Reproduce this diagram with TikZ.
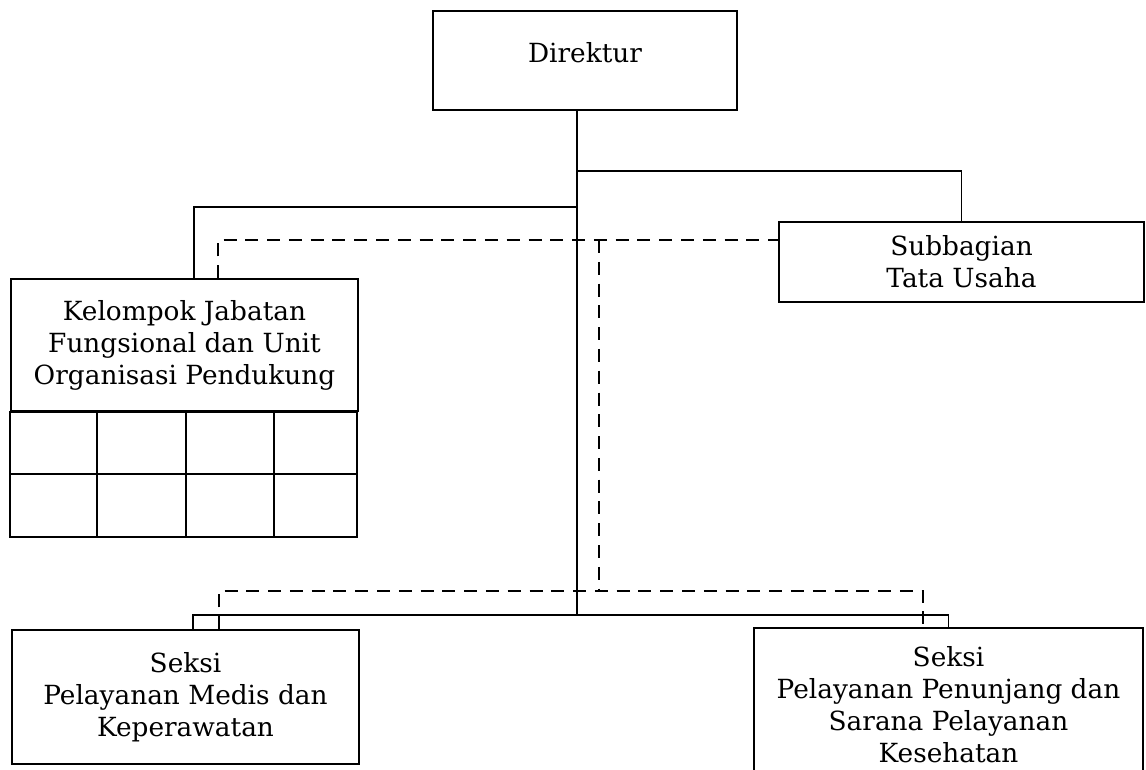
\documentclass[tikz,border=0pt]{standalone}
\usepackage{fontspec}
\setmainfont{DejaVu Serif}
\tikzset{
  kotak/.style={draw, line width=1.1pt, align=center, inner sep=0pt},
  garis/.style={line width=1.1pt},
  putus/.style={line width=1.1pt, dash pattern=on 7.4pt off 5pt},
}
\begin{document}
\begin{tikzpicture}[x=0.02cm, y=-0.02cm, font=\fontsize{15}{18.2}\selectfont]
  \useasboundingbox (0,0) rectangle (1146,769);

  % Kotak unit
  \node[kotak, minimum width=6.08cm, minimum height=1.98cm, text depth=9pt] (dir) at (585,60.5) {Direktur};
  \node[kotak, minimum width=6.94cm, minimum height=2.64cm] (kjf) at (184.5,345) {Kelompok Jabatan\\Fungsional dan Unit\\Organisasi Pendukung};
  \node[kotak, minimum width=7.3cm, minimum height=1.6cm] (tu) at (961.5,262) {Subbagian\\Tata Usaha};
  \node[kotak, minimum width=6.94cm, minimum height=2.68cm] (medis) at (185.5,697) {Seksi\\Pelayanan Medis dan\\Keperawatan};
  \node[kotak, minimum width=7.78cm, minimum height=3.08cm] (penunjang) at (948.5,705) {Seksi\\Pelayanan Penunjang dan\\Sarana Pelayanan\\Kesehatan};

  % Tabel di bawah kelompok jabatan
  \draw[garis] (kjf.south west) rectangle ++(347,125);
  \draw[garis] (kjf.south west) ++(0,62) -- ++(347,0);
  \foreach \x in {87,176,264}
    \draw[garis] (kjf.south west) ++(\x,0) -- ++(0,125);

  % Titik bantu
  \coordinate (poros) at (577,615);
  \coordinate (putusatas) at (599,240);
  \coordinate (putusbawah) at (599,591);

  % Garis komando
  \draw[garis] (dir.south -| poros) -- (poros);
  \draw[garis] (dir.south -| poros) ++(0,60) -| (tu.north);
  \draw[garis] (dir.south -| poros) ++(0,96) -| ([xshift=0.19cm]kjf.north);
  \draw[garis] ([xshift=0.15cm]medis.north) |- (poros);
  \draw[garis] (penunjang.north) |- (poros);

  % Garis koordinasi
  \draw[putus] ([xshift=0.67cm]kjf.north) |- (tu.west |- putusatas);
  \draw[putus] (putusatas) -- (putusbawah);
  \draw[putus] ([xshift=0.67cm]medis.north) |- (putusbawah) -| ([xshift=-0.51cm]penunjang.north);
\end{tikzpicture}
\end{document}
